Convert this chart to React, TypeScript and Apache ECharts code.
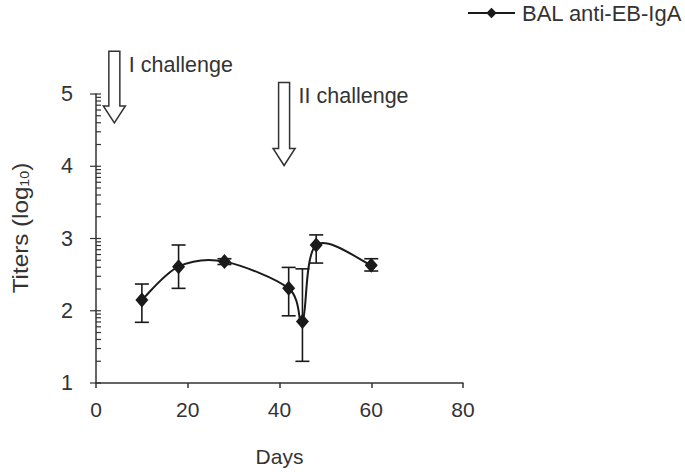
import React, { useEffect, useRef } from "react";
import * as echarts from "echarts";

const seriesName = "BAL anti-EB-IgA";
const days = [10, 18, 28, 42, 45, 48, 60];
const titers = [2.15, 2.61, 2.68, 2.31, 1.85, 2.91, 2.63];
const errUpper = [2.37, 2.91, 2.72, 2.6, 2.58, 3.05, 2.72];
const errLower = [1.84, 2.31, 2.64, 1.93, 1.3, 2.66, 2.55];

const xTicks = [0, 20, 40, 60, 80];
const yMajor = [1, 2, 3, 4, 5];
// log-style minor offsets within each decade (log10 of 2..9)
const minorOffsets = [0.301, 0.477, 0.602, 0.699, 0.778, 0.845, 0.903, 0.954];

const challengeLabels = ["I challenge", "II challenge"];
const challengeDays = [4, 41];
const challengeTop = [5.59, 5.16];
const challengeTip = [4.6, 4.01];

const FONT = "'Liberation Sans', Arial, sans-serif";
const INK = "#1a1a1a";
const AXIS = "#333";
const TEXT = "#333";

export default function App() {
  const ref = useRef<HTMLDivElement>(null);
  useEffect(() => {
    const chart = echarts.init(ref.current!, null, { renderer: "svg" });

    const yTickData: number[][] = [];
    yMajor.forEach((v) => yTickData.push([v, 1]));
    yMajor.slice(0, -1).forEach((v) =>
      minorOffsets.forEach((o) => yTickData.push([v + o, 0]))
    );

    chart.setOption({
      animation: false,
      textStyle: { fontFamily: FONT },
      grid: { left: 96, right: 222, top: 94, bottom: 88, containLabel: false },
      legend: {
        data: [seriesName],
        left: 467,
        top: 2,
        padding: 0,
        itemWidth: 47,
        itemHeight: 13,
        lineStyle: { color: INK, width: 2, opacity: 1 },
        textStyle: { fontSize: 22, color: TEXT, fontFamily: FONT, padding: [0, 0, 0, 2] },
      },
      graphic: [
        {
          type: "text",
          x: 20,
          y: 228,
          rotation: Math.PI / 2,
          scaleX: 1.1,
          style: {
            text: "Titers (log{sub|10})",
            fontSize: 22,
            fontFamily: FONT,
            fill: TEXT,
            align: "center",
            verticalAlign: "middle",
            rich: {
              sub: { fontSize: 13, fontFamily: FONT, fill: TEXT, padding: [9, 0, 0, 0] },
            },
          },
        },
      ],
      xAxis: {
        type: "value",
        min: xTicks[0],
        max: xTicks[xTicks.length - 1],
        interval: 20,
        name: "Days",
        nameLocation: "middle",
        nameGap: 63,
        nameTextStyle: { fontSize: 21, color: TEXT, fontFamily: FONT },
        axisLine: { show: true, lineStyle: { color: AXIS, width: 1.5 } },
        axisTick: { show: true, length: 5, lineStyle: { color: AXIS, width: 1.5 } },
        axisLabel: { fontSize: 21, color: TEXT, margin: 16, fontFamily: FONT },
        splitLine: { show: false },
      },
      yAxis: {
        type: "value",
        min: yMajor[0],
        max: yMajor[yMajor.length - 1],
        interval: 1,
        axisLine: { show: true, lineStyle: { color: AXIS, width: 1.5 } },
        axisTick: { show: false },
        axisLabel: { fontSize: 21.5, color: TEXT, margin: 23, fontFamily: FONT },
        splitLine: { show: false },
      },
      series: [
        {
          type: "custom",
          name: "yticks",
          silent: true,
          data: yTickData,
          encode: { y: 0 },
          renderItem: (params: any, api: any) => {
            const v = api.value(0);
            const major = api.value(1) === 1;
            const p = api.coord([0, v]);
            return {
              type: "line",
              shape: { x1: p[0] - (major ? 6 : 0), y1: p[1], x2: p[0] + 5, y2: p[1] },
              style: { stroke: AXIS, lineWidth: 1.2 },
            };
          },
          z: 1,
        },
        {
          type: "custom",
          name: "errors",
          silent: true,
          data: days.map((d, i) => [d, errLower[i], errUpper[i]]),
          encode: { x: 0, y: [1, 2] },
          renderItem: (params: any, api: any) => {
            const x = api.value(0);
            const lo = api.coord([x, api.value(1)]);
            const hi = api.coord([x, api.value(2)]);
            const w = 7;
            const st = { stroke: INK, lineWidth: 1.6 };
            return {
              type: "group",
              children: [
                { type: "line", shape: { x1: lo[0], y1: lo[1], x2: hi[0], y2: hi[1] }, style: st },
                { type: "line", shape: { x1: lo[0] - w, y1: lo[1], x2: lo[0] + w, y2: lo[1] }, style: st },
                { type: "line", shape: { x1: hi[0] - w, y1: hi[1], x2: hi[0] + w, y2: hi[1] }, style: st },
              ],
            };
          },
          z: 2,
        },
        {
          type: "custom",
          name: "curve",
          silent: true,
          data: [[days[0], titers[0]]],
          encode: { x: 0, y: 1 },
          renderItem: (params: any, api: any) => {
            const pts = days.map((d, i) => api.coord([d, titers[i]]));
            const n = pts.length;
            const t = 1 / 6;
            const children: any[] = [];
            for (let i = 0; i < n - 1; i++) {
              const p0 = pts[Math.max(i - 1, 0)];
              const p1 = pts[i];
              const p2 = pts[i + 1];
              const p3 = pts[Math.min(i + 2, n - 1)];
              children.push({
                type: "bezierCurve",
                shape: {
                  x1: p1[0],
                  y1: p1[1],
                  x2: p2[0],
                  y2: p2[1],
                  cpx1: p1[0] + (p2[0] - p0[0]) * t,
                  cpy1: p1[1] + (p2[1] - p0[1]) * t,
                  cpx2: p2[0] - (p3[0] - p1[0]) * t,
                  cpy2: p2[1] - (p3[1] - p1[1]) * t,
                },
                style: { stroke: INK, lineWidth: 2, fill: "none" },
              });
            }
            return { type: "group", children };
          },
          z: 3,
        },
        {
          type: "line",
          name: seriesName,
          data: days.map((d, i) => [d, titers[i]]),
          symbol: "diamond",
          symbolSize: [13, 15],
          itemStyle: { color: INK },
          lineStyle: { color: INK, width: 2, opacity: 0 },
          z: 4,
        },
        {
          type: "custom",
          name: "challenges",
          silent: true,
          data: challengeDays.map((d, i) => [d, challengeTop[i], challengeTip[i], i]),
          encode: { x: 0, y: [1, 2] },
          renderItem: (params: any, api: any) => {
            const d = api.value(0);
            const idx = api.value(3);
            const top = api.coord([d, api.value(1)]);
            const tip = api.coord([d, api.value(2)]);
            const x = tip[0];
            const sw = 5.5;
            const hw = 11;
            const hh = 17;
            return {
              type: "group",
              children: [
                {
                  type: "polygon",
                  shape: {
                    points: [
                      [x - sw, top[1]],
                      [x + sw, top[1]],
                      [x + sw, tip[1] - hh],
                      [x + hw, tip[1] - hh],
                      [x, tip[1]],
                      [x - hw, tip[1] - hh],
                      [x - sw, tip[1] - hh],
                    ],
                  },
                  style: { fill: "#fff", stroke: AXIS, lineWidth: 1.5 },
                },
                {
                  type: "text",
                  x: x + sw + 9,
                  y: top[1] + 14,
                  style: {
                    text: challengeLabels[idx],
                    fontSize: 21.5,
                    fontFamily: FONT,
                    fill: TEXT,
                    verticalAlign: "middle",
                    align: "left",
                  },
                },
              ],
            };
          },
          z: 5,
        },
      ],
    });
    return () => chart.dispose();
  }, []);
  return (
    <div
      ref={ref}
      style={{ position: "fixed", left: 0, top: 0, width: 685, height: 472, background: "#fff" }}
    />
  );
}
